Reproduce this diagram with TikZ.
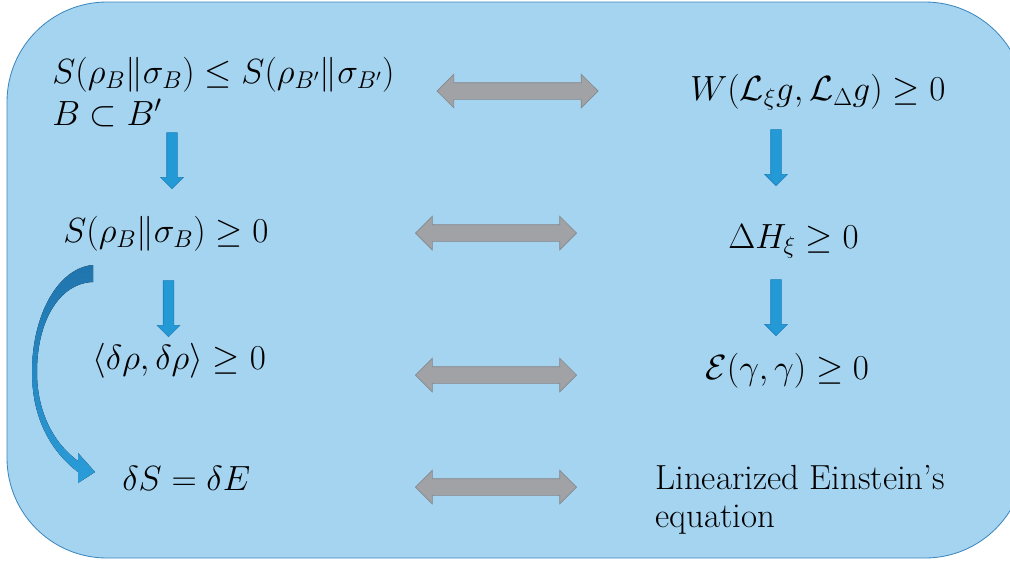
\documentclass[tikz,border=0pt]{standalone}
\usepackage{amsmath,amssymb}
\usetikzlibrary{positioning, arrows.meta, shapes.arrows}
\definecolor{panelblue}{HTML}{A5D4F0}
\definecolor{panelline}{HTML}{3F88BF}
\definecolor{arrowblue}{HTML}{2399D6}
\definecolor{arrowline}{HTML}{1C7FB8}
\definecolor{curvetop}{HTML}{2074AD}
\definecolor{curvebot}{HTML}{2A9DD9}
\definecolor{equivgray}{HTML}{A0A2A5}
\definecolor{equivline}{HTML}{85888C}

\begin{document}
\begin{tikzpicture}[
    x=0.25mm, y=-0.25mm,
    formula/.style={anchor=base west, inner sep=0pt, font=\fontsize{24.8}{27}\selectfont},
    equivarr/.style={double arrow, draw=equivline, fill=equivgray, line width=0.5pt,
                     inner xsep=0pt, inner ysep=2mm, double arrow head extend=2.125mm,
                     minimum height=40.25mm},
    implarr/.style={single arrow, draw=arrowline, fill=arrowblue, line width=0.4pt,
                    inner xsep=0pt, inner ysep=1.25mm, single arrow head extend=1.5mm,
                    minimum height=14mm, rotate=-90},
  ]

  \useasboundingbox (0,0) rectangle (1010,565);

  % ── Panel ──
  \draw[panelline, fill=panelblue, line width=0.6pt, rounded corners=25mm]
    (7,2) rectangle (1025,558);

  % ── Left column ──
  \node[formula] (rel) at (52,83) {$S(\rho_B\|\sigma_B)\leq S(\rho_{B'}\|\sigma_{B'})$};
  \node[formula] (incl) at (52,125) {$B\subset B'$};
  \node[formula] (pos_rel) at (63,242) {$S(\rho_B\|\sigma_B)\geq 0$};
  \node[formula] (fisher) at (92,369) {$\langle\delta\rho,\delta\rho\rangle\geq 0$};
  \node[formula] (first_law) at (122,490) {$\delta S=\delta E$};

  % ── Right column ──
  \node[formula] (w_cond) at (690,100) {$W(\mathcal{L}_\xi g,\mathcal{L}_\Delta g)\geq 0$};
  \node[formula] (delta_h) at (728,248) {$\Delta H_\xi\geq 0$};
  \node[formula] (canon) at (705,379) {$\mathcal{E}(\gamma,\gamma)\geq 0$};
  \node[formula, align=left] (einstein) at (655,527) {Linearized Einstein's\\equation};

  % ── Implications ──
  \node[implarr] (impl_l1) at (172,158) {};
  \node[implarr] (impl_l2) at (168.5,306) {};
  \node[implarr] (impl_r1) at (776,155) {};
  \node[implarr] (impl_r2) at (776,305) {};

  % ── Equivalences ──
  \node[equivarr] (equiv_1) at (517.5,91) {};
  \node[equivarr] (equiv_2) at (496,233) {};
  \node[equivarr] (equiv_3) at (496,375) {};
  \node[equivarr] (equiv_4) at (496,487) {};

  % ── Curved arrow: positivity -> first law ──
  \fill[top color=curvetop, bottom color=curvebot]
    (93,265) .. controls (58,268) and (32,315) .. (32,372)
    .. controls (32,420) and (52,452) .. (78,472)
    -- (78,483) -- (95,472) -- (78,453) -- (78,461)
    .. controls (56,445) and (37,415) .. (37,372)
    .. controls (37,320) and (60,283) .. (93,282) -- cycle;

\end{tikzpicture}
\end{document}
